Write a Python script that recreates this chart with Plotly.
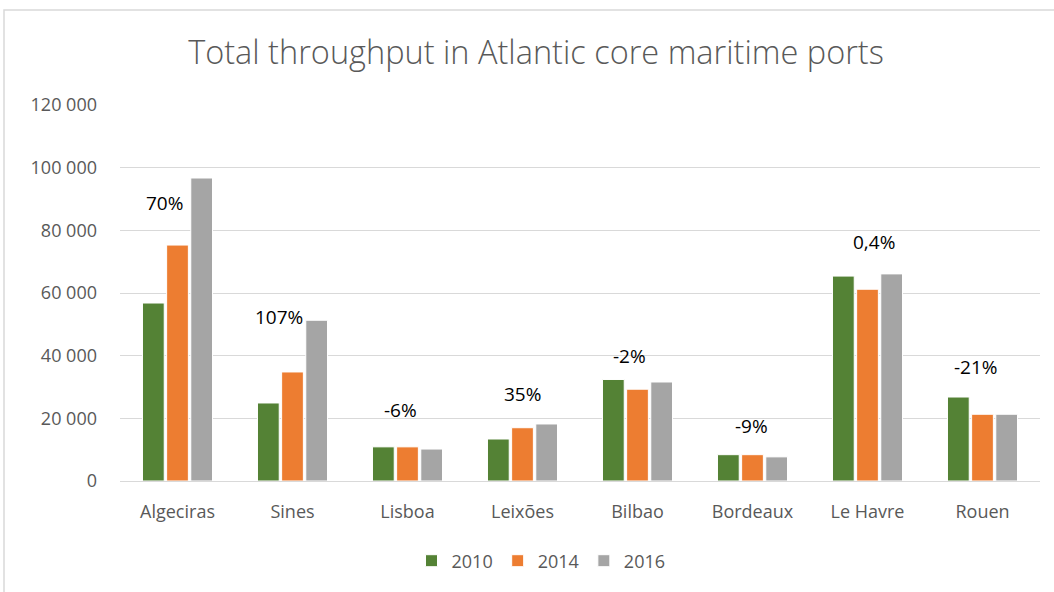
import plotly.graph_objects as go

ports = ["Algeciras", "Sines", "Lisboa", "Leixões", "Bilbao", "Bordeaux", "Le Havre", "Rouen"]
v2010 = [56800, 24900, 10900, 13400, 32400, 8400, 65400, 26800]
v2014 = [75300, 34800, 10900, 17000, 29300, 8400, 61200, 21300]
v2016 = [96700, 51300, 10200, 18200, 31600, 7700, 66100, 21300]
change_labels = ["70%", "107%", "-6%", "35%", "-2%", "-9%", "0,4%", "-21%"]
label_y = [88600, 52300, 22600, 27800, 39900, 17700, 76200, 36300]
label_dx = [-13, -14, -7, 0, -8, -1, 6, -7]
tick_vals = [0, 20000, 40000, 60000, 80000, 100000, 120000]
tick_text = ["0", "20 000", "40 000", "60 000", "80 000", "100 000", "120 000"]

FONT = "'Open Sans', sans-serif"
W, H = 1054, 592
L, R, T, B = 120, 14, 105, 111
PW, PH = W - L - R, H - T - B

fig = go.Figure()
for name, vals, col in [("2010", v2010, "#548235"), ("2014", v2014, "#ED7D31"), ("2016", v2016, "#A5A5A5")]:
    fig.add_trace(go.Bar(x=ports, y=vals, name=name, marker=dict(color=col, line=dict(color="white", width=1))))

for p, t, y, dx in zip(ports, change_labels, label_y, label_dx):
    fig.add_annotation(x=p, y=y, text=t, showarrow=False, xshift=dx,
                       font=dict(family=FONT, size=19, color="#000000"))

fig.update_layout(
    width=W, height=H,
    margin=dict(l=L, r=R, t=T, b=B),
    paper_bgcolor="white", plot_bgcolor="white",
    title=dict(text="Total throughput in Atlantic core maritime ports", x=536 / W, xanchor="center",
               y=1 - 53 / H, yanchor="middle", font=dict(family=FONT, size=32.5, color="#595959", weight=300)),
    barmode="group", bargap=0.37, bargroupgap=0.1,
    showlegend=True,
    legend=dict(orientation="h", x=(541 - L) / PW, xanchor="center", y=-(561 - (H - B)) / PH, yanchor="middle",
                font=dict(family=FONT, size=18, color="#595959"), traceorder="normal",
                itemwidth=30),
    xaxis=dict(showgrid=False, showline=True, linecolor="#D9D9D9", linewidth=1,
               tickfont=dict(family=FONT, size=18, color="#595959"), ticks="", ticklabelstandoff=14),
    yaxis=dict(range=[0, 120000], tickvals=tick_vals, ticktext=tick_text,
               showgrid=True, gridcolor="#D9D9D9", gridwidth=1, zeroline=False,
               tickfont=dict(family=FONT, size=18, color="#595959"), ticks="", ticklabelstandoff=22),
)
fig.add_shape(type="rect", xref="paper", yref="paper",
              x0=(4 - L) / PW, x1=(1062 - L) / PW, y0=-(600 - (H - B)) / PH, y1=((H - B) - 10) / PH,
              line=dict(color="#D9D9D9", width=1.5), fillcolor="rgba(0,0,0,0)", layer="below")
fig.write_html("out.html", config={"displayModeBar": False},
               post_script="document.body.style.margin='0';")
